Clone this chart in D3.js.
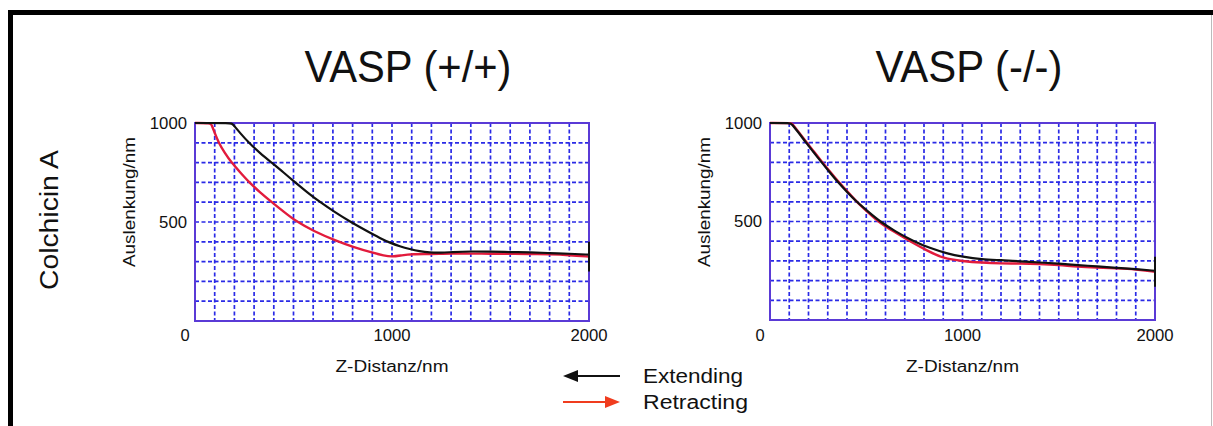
<!DOCTYPE html>
<html><head><meta charset="utf-8">
<script src="https://cdn.jsdelivr.net/npm/d3@7"></script>
<style>html,body{margin:0;padding:0;background:#fff;}svg{display:block;}</style>
</head><body>
<svg id="chart" width="1213" height="426"></svg>
<script>
// ---------- data ----------
const panelTitles = ["VASP (+/+)", "VASP (-/-)"];
const rowLabel = "Colchicin A";
const xLabel = "Z-Distanz/nm";
const yLabel = "Auslenkung/nm";
const xTickLabels = [1000, 2000];
const yTickLabels = [500, 1000];
const legendLabels = ["Extending", "Retracting"];

// VASP (+/+)
const wtExtX = [0, 186, 190, 230, 276, 330, 389, 450, 508, 570, 635, 710, 790, 880, 940, 990, 1040, 1090, 1140, 1190, 1250, 1300, 1400, 1500, 1600, 1700, 1800, 1900, 2000];
const wtExtY = [1000, 1000, 996, 948, 897, 848, 800, 750, 700, 650, 600, 550, 500, 450, 418, 395, 377, 363, 352, 346, 345, 348, 352, 350, 348, 347, 343, 340, 335];
const wtRetX = [0, 80, 84, 100, 120, 150, 185, 230, 275, 330, 390, 450, 510, 600, 720, 800, 900, 960, 1000, 1050, 1100, 1200, 1300, 1400, 1500, 1600, 1700, 1800, 1900, 2000];
const wtRetY = [1000, 1000, 992, 950, 900, 850, 800, 750, 700, 650, 600, 552, 505, 455, 403, 375, 345, 330, 324, 332, 338, 338, 342, 340, 340, 340, 338, 337, 333, 325];
const wtEndTick = [400, 250];

// VASP (-/-)
const koExtX = [0, 108, 112, 150, 187, 228, 268, 310, 352, 400, 450, 510, 571, 650, 745, 830, 918, 1000, 1100, 1200, 1300, 1400, 1500, 1600, 1700, 1800, 1900, 2000];
const koExtY = [1000, 1000, 995, 950, 900, 850, 800, 750, 700, 650, 600, 550, 500, 450, 400, 365, 338, 321, 307, 304, 298, 292, 286, 279, 272, 265, 258, 250];
const koRetX = [0, 112, 116, 150, 187, 228, 268, 310, 352, 400, 450, 505, 560, 640, 727, 820, 900, 1000, 1100, 1200, 1300, 1400, 1500, 1600, 1700, 1800, 1900, 2000];
const koRetY = [1000, 1000, 995, 952, 905, 855, 805, 755, 705, 655, 600, 550, 500, 450, 400, 350, 312, 299, 291, 287, 287, 284, 279, 270, 266, 262, 257, 245];
const koEndTick = [321, 169];

// ---------- layout ----------
const svg = d3.select("#chart");
const font = "'Liberation Sans', Arial, Helvetica, sans-serif";

// frame
svg.append("rect").attr("x", 8).attr("y", 10).attr("width", 1205).attr("height", 5).attr("fill", "#000");
svg.append("rect").attr("x", 8).attr("y", 10).attr("width", 5).attr("height", 416).attr("fill", "#000");
svg.append("line").attr("x1", 1211.5).attr("x2", 1211.5).attr("y1", 15).attr("y2", 426).attr("stroke", "#bbb").attr("stroke-width", 1);

const panels = [
  {box: [195, 589, 123, 321], title: panelTitles[0], titleX: 408, titleW: 207,
   ext: [wtExtX, wtExtY], ret: [wtRetX, wtRetY], tick: wtEndTick},
  {box: [770, 1155, 123, 320], title: panelTitles[1], titleX: 969, titleW: 187,
   ext: [koExtX, koExtY], ret: [koRetX, koRetY], tick: koEndTick}
];

const gridColor = "#2a2ae6";
const boxColor = "#5a3ad6";

panels.forEach(p => {
  const [L, R, T, B] = p.box;
  const x = d3.scaleLinear().domain([0, 2000]).range([L, R]);
  const y = d3.scaleLinear().domain([0, 1000]).range([B, T]);
  const g = svg.append("g");

  // title
  g.append("text").attr("x", p.titleX).attr("y", 82).attr("text-anchor", "middle")
    .attr("font-family", font).attr("font-size", 44).attr("fill", "#111")
    .attr("textLength", p.titleW).attr("lengthAdjust", "spacingAndGlyphs").text(p.title);

  // grid
  const vx = d3.range(100, 2000, 100);
  const hy = d3.range(100, 1000, 100);
  g.selectAll(".vg").data(vx).join("line")
    .attr("x1", d => x(d)).attr("x2", d => x(d)).attr("y1", T).attr("y2", B)
    .attr("stroke", gridColor).attr("stroke-width", 1.7).attr("stroke-dasharray", "4,2.5");
  g.selectAll(".hg").data(hy).join("line")
    .attr("x1", L).attr("x2", R).attr("y1", d => y(d)).attr("y2", d => y(d))
    .attr("stroke", gridColor).attr("stroke-width", 1.7).attr("stroke-dasharray", "4,2.5");

  // box
  g.append("rect").attr("x", L).attr("y", T).attr("width", R - L).attr("height", B - T)
    .attr("fill", "none").attr("stroke", boxColor).attr("stroke-width", 2);

  // curves
  const line = d3.line().x(d => x(d[0])).y(d => y(d[1])).curve(d3.curveBasis);
  const retData = p.ret[0].map((v, i) => [v, p.ret[1][i]]);
  const extData = p.ext[0].map((v, i) => [v, p.ext[1][i]]);
  g.append("path").attr("d", line(retData)).attr("fill", "none")
    .attr("stroke", "#e21b3c").attr("stroke-width", 2.4);
  g.append("path").attr("d", line(extData)).attr("fill", "none")
    .attr("stroke", "#111").attr("stroke-width", 2.2);
  g.append("line").attr("x1", x(2000)).attr("x2", x(2000))
    .attr("y1", y(p.tick[0])).attr("y2", y(p.tick[1]))
    .attr("stroke", "#111").attr("stroke-width", 2);

  // tick labels
  g.selectAll(".yt").data(yTickLabels).join("text")
    .attr("x", L - 8).attr("y", d => y(d)).attr("dy", "0.35em").attr("text-anchor", "end")
    .attr("font-family", font).attr("font-size", 16.5).attr("fill", "#111")
    .attr("textLength", d => String(d).length * 9.3).attr("lengthAdjust", "spacingAndGlyphs")
    .text(d => d);
  g.selectAll(".xt").data(xTickLabels).join("text")
    .attr("x", d => x(d)).attr("y", 335).attr("dy", "0.35em").attr("text-anchor", "middle")
    .attr("font-family", font).attr("font-size", 16.5).attr("fill", "#111")
    .attr("textLength", d => String(d).length * 9.3).attr("lengthAdjust", "spacingAndGlyphs")
    .text(d => d);
  g.append("text").attr("x", x(0) - 10).attr("y", 335).attr("dy", "0.35em").attr("text-anchor", "middle")
    .attr("font-family", font).attr("font-size", 16.5).attr("fill", "#111").text("0");

  // axis labels
  g.append("text").attr("x", (L + R) / 2).attr("y", 366).attr("dy", "0.35em").attr("text-anchor", "middle")
    .attr("font-family", font).attr("font-size", 16).attr("fill", "#111")
    .attr("textLength", 113).attr("lengthAdjust", "spacingAndGlyphs").text(xLabel);
  g.append("text").attr("transform", `translate(${L - 60},202) rotate(-90)`)
    .attr("text-anchor", "middle").attr("font-family", font).attr("font-size", 17).attr("fill", "#111")
    .attr("textLength", 130).attr("lengthAdjust", "spacingAndGlyphs").text(yLabel);
});

// row label
svg.append("text").attr("transform", "translate(58,220) rotate(-90)")
  .attr("text-anchor", "middle").attr("font-family", font).attr("font-size", 25).attr("fill", "#111")
  .attr("textLength", 140).attr("lengthAdjust", "spacingAndGlyphs").text(rowLabel);

// legend
const legColors = ["#111", "#f03c1e"];
const legY = [376, 402];
legendLabels.forEach((lab, i) => {
  const yy = legY[i];
  const x0 = 563, x1 = 620;
  if (i === 0) {
    svg.append("line").attr("x1", x0 + 12).attr("x2", x1).attr("y1", yy).attr("y2", yy)
      .attr("stroke", legColors[i]).attr("stroke-width", 2);
    svg.append("path").attr("d", `M${x0},${yy} L${x0 + 15},${yy - 6} L${x0 + 15},${yy + 6} Z`).attr("fill", legColors[i]);
  } else {
    svg.append("line").attr("x1", x0).attr("x2", x1 - 12).attr("y1", yy).attr("y2", yy)
      .attr("stroke", legColors[i]).attr("stroke-width", 2);
    svg.append("path").attr("d", `M${x1},${yy} L${x1 - 15},${yy - 6} L${x1 - 15},${yy + 6} Z`).attr("fill", legColors[i]);
  }
  svg.append("text").attr("x", 643).attr("y", yy + 7).attr("font-family", font).attr("font-size", 20)
    .attr("fill", "#111").attr("textLength", i === 0 ? 100 : 105).attr("lengthAdjust", "spacingAndGlyphs").text(lab);
});
</script>
</body></html>
